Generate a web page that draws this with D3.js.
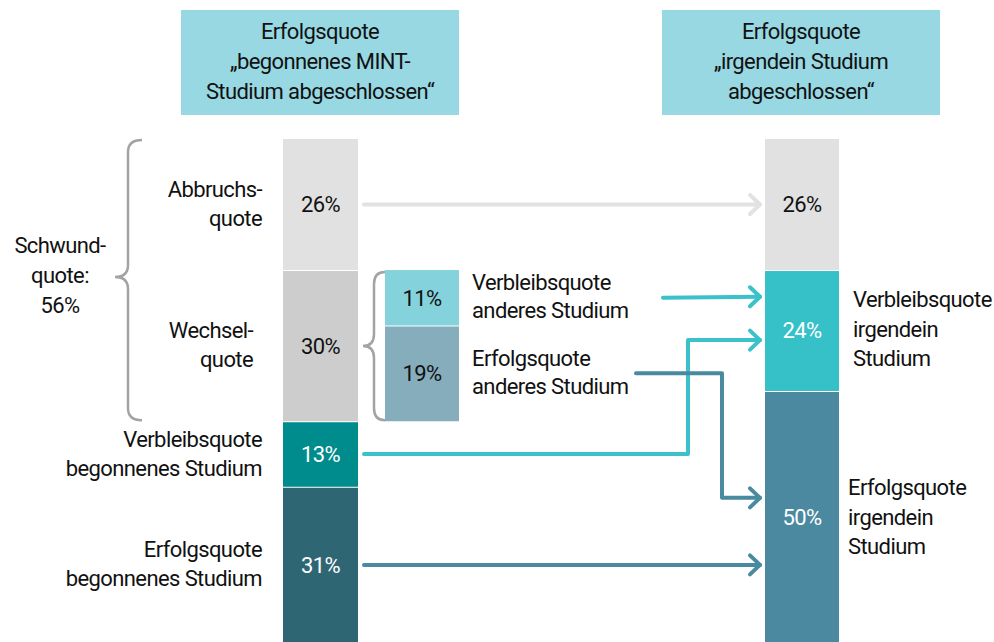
<!DOCTYPE html>
<html>
<head>
<meta charset="utf-8">
<script src="https://cdn.jsdelivr.net/npm/d3@7/dist/d3.min.js"></script>
<style>
  body { margin: 0; background: #fff; }
  svg text { font-family: Roboto, "Liberation Sans", sans-serif; font-size: 22px; letter-spacing: -0.6px; fill: #111; }
</style>
</head>
<body>
<svg width="994" height="642"></svg>
<script>
// data: shares in percent
var leftLabels = [["Abbruchs-", "quote"], ["Wechsel-", "quote"], ["Verbleibsquote", "begonnenes Studium"], ["Erfolgsquote", "begonnenes Studium"]];
var leftValues = [26, 30, 13, 31];
var midLabels = [["Verbleibsquote", "anderes Studium"], ["Erfolgsquote", "anderes Studium"]];
var midValues = [11, 19];
var midStart = 26;
var rightLabels = [[], ["Verbleibsquote", "irgendein", "Studium"], ["Erfolgsquote", "irgendein", "Studium"]];
var rightValues = [26, 24, 50];
var headers = [["Erfolgsquote", "\u201ebegonnenes MINT-", "Studium abgeschlossen\u201c"], ["Erfolgsquote", "\u201eirgendein Studium", "abgeschlossen\u201c"]];
var schwund = ["Schwund-", "quote:", "56%"];
// flows: from / to as percent position on the stacked scale
var flows = [
  {from: 13, to: 13, kind: "gray"},
  {from: 31.5, to: 31.3, kind: "cyan", start: "mid"},
  {from: 62.5, to: 39.9, kind: "cyan", start: "left", bend: 688},
  {from: 46.5, to: 71.2, kind: "blue", start: "mid", bend: 722},
  {from: 84.5, to: 84.5, kind: "blue"}
];

var leftColors = ["#e1e1e1", "#cdcdcd", "#008c8c", "#2f6674"];
var leftText = ["#111", "#111", "#fff", "#fff"];
var midColors = ["#84d2db", "#86adbc"];
var rightColors = ["#e1e1e1", "#36c0c8", "#4a89a0"];
var rightText = ["#111", "#fff", "#fff"];
var flowColors = {gray: "#e2e2e2", cyan: "#3bc1c9", blue: "#4a8aa0"};

var svg = d3.select("svg");
var y = d3.scaleLinear().domain([0, 100]).range([139, 643]);

function stack(values, start) {
  var acc = start || 0;
  return values.map(function(v, i) {
    var d = {i: i, v: v, y0: acc, y1: acc + v};
    acc += v;
    return d;
  });
}

function drawBar(values, start, x, w, colors, textColors) {
  var g = svg.append("g");
  var segs = stack(values, start);
  g.selectAll("rect").data(segs).enter().append("rect")
    .attr("x", x).attr("width", w)
    .attr("y", function(d) { return y(d.y0) + (d.i ? 1 : 0); })
    .attr("height", function(d) { return y(d.y1) - y(d.y0) - (d.i ? 1 : 0); })
    .attr("fill", function(d) { return colors[d.i]; });
  g.selectAll("text").data(segs).enter().append("text")
    .attr("x", x + w / 2)
    .attr("y", function(d) { return (y(d.y0) + y(d.y1)) / 2; })
    .attr("dy", "0.36em")
    .attr("text-anchor", "middle")
    .style("fill", function(d) { return textColors[d.i]; })
    .text(function(d) { return d.v + "%"; });
  return segs;
}

function multiline(lines, x, y0, anchor, lh) {
  var t = svg.append("text").attr("text-anchor", anchor);
  lines.forEach(function(l, i) {
    t.append("tspan").attr("x", x).attr("y", y0 + i * (lh || 29)).text(l);
  });
  return t;
}

// header boxes
var headerX = [181, 662];
headers.forEach(function(h, i) {
  svg.append("rect").attr("x", headerX[i]).attr("y", 10).attr("width", 278).attr("height", 105).attr("fill", "#97d8e3");
  multiline(h, headerX[i] + 139, 39, "middle", 30);
});

// bars
var leftSegs = drawBar(leftValues, 0, 283, 75, leftColors, leftText);
drawBar(midValues, midStart, 385, 74, midColors, ["#111", "#111"]);
var rightSegs = drawBar(rightValues, 0, 765, 74, rightColors, rightText);

// left labels, centred on their segment
var leftLabelX = [262, 253, 262, 262];
leftSegs.forEach(function(d) {
  var n = leftLabels[d.i].length;
  var c = (y(d.y0) + y(d.y1)) / 2;
  multiline(leftLabels[d.i], leftLabelX[d.i], c - (n - 1) * 14.5 + 7, "end");
});

// middle labels
var midLabelY = [290, 366];
midLabels.forEach(function(l, i) { multiline(l, 472, midLabelY[i], "start", 28); });

// right labels
var rightLabelPos = [null, [853, 307], [848, 495]];
rightLabels.forEach(function(l, i) {
  if (!l.length) return;
  multiline(l, rightLabelPos[i][0], rightLabelPos[i][1], "start", 29.5);
});

// Schwundquote + braces
multiline(schwund, 60, 253, "middle", 30);
var brace = svg.append("g").attr("fill", "none").attr("stroke", "#a3a3a3").attr("stroke-width", 2.5);
function bracePath(xr, xv, xt, top, bot, mid) {
  return "M" + xr + "," + top + " Q" + xv + "," + top + " " + xv + "," + (top + 12) +
    " L" + xv + "," + (mid - 12) + " Q" + xv + "," + mid + " " + xt + "," + mid +
    " Q" + xv + "," + mid + " " + xv + "," + (mid + 12) +
    " L" + xv + "," + (bot - 12) + " Q" + xv + "," + bot + " " + xr + "," + bot;
}
brace.append("path").attr("d", bracePath(142, 128, 115, y(0) + 1, y(56) - 1, 277));
brace.append("path").attr("d", bracePath(385, 374, 363, y(26) + 2, y(56) - 1, 346));

// arrows
var arrowG = svg.append("g").attr("fill", "none").attr("stroke-width", 4).attr("stroke-linejoin", "round").attr("stroke-linecap", "round");
var tipX = 760;
flows.forEach(function(f) {
  var x0 = f.start == "mid" ? (f.bend ? 636 : 663) : 364;
  var pts;
  if (f.bend) pts = [[x0, y(f.from)], [f.bend, y(f.from)], [f.bend, y(f.to)], [tipX, y(f.to)]];
  else pts = [[x0, y(f.from)], [tipX, y(f.to)]];
  arrowG.append("path").attr("d", d3.line()(pts)).attr("stroke", flowColors[f.kind]);
  var ty = y(f.to);
  arrowG.append("path")
    .attr("d", d3.line()([[tipX - 10, ty - 9.5], [tipX, ty], [tipX - 10, ty + 9.5]]))
    .attr("stroke", flowColors[f.kind]);
});
</script>
</body>
</html>
